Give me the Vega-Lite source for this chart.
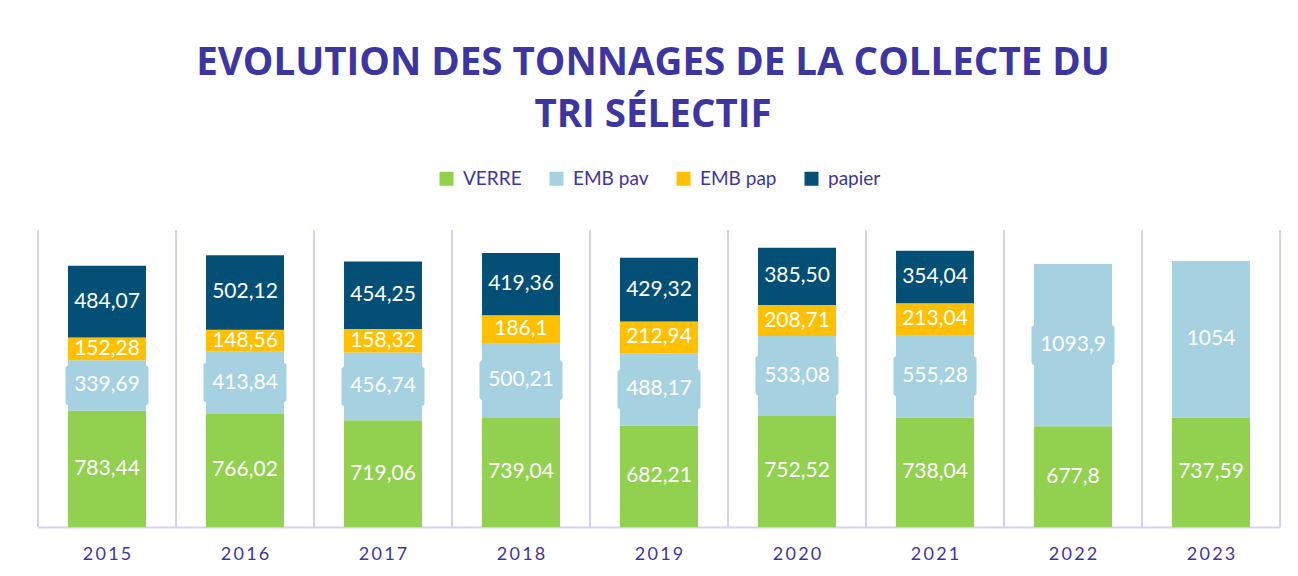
{
  "$schema": "https://vega.github.io/schema/vega-lite/v6.json",
  "width": 1242,
  "height": 297,
  "autosize": {"type": "pad"},
  "padding": {"left": 37, "right": 19, "top": 43, "bottom": 0},
  "background": "white",
  "title": {
    "text": ["EVOLUTION DES TONNAGES DE LA COLLECTE DU", "TRI SÉLECTIF"],
    "font": "Open Sans",
    "fontSize": 38.5,
    "fontWeight": "bold",
    "color": "#3D35A0",
    "lineHeight": 52,
    "anchor": "middle",
    "dx": -6,
    "offset": 34
  },
  "config": {
    "view": {"stroke": null},
    "legend": {"layout": {"top": {"anchor": "middle"}}}
  },
  "data": {
    "values": [
      {"year": "2015", "serie": "VERRE", "o": 1, "value": 783.44, "label": "783,44"},
      {"year": "2015", "serie": "EMB pav", "o": 2, "value": 339.69, "label": "339,69"},
      {"year": "2015", "serie": "EMB pap", "o": 3, "value": 152.28, "label": "152,28"},
      {"year": "2015", "serie": "papier", "o": 4, "value": 484.07, "label": "484,07"},
      {"year": "2016", "serie": "VERRE", "o": 1, "value": 766.02, "label": "766,02"},
      {"year": "2016", "serie": "EMB pav", "o": 2, "value": 413.84, "label": "413,84"},
      {"year": "2016", "serie": "EMB pap", "o": 3, "value": 148.56, "label": "148,56"},
      {"year": "2016", "serie": "papier", "o": 4, "value": 502.12, "label": "502,12"},
      {"year": "2017", "serie": "VERRE", "o": 1, "value": 719.06, "label": "719,06"},
      {"year": "2017", "serie": "EMB pav", "o": 2, "value": 456.74, "label": "456,74"},
      {"year": "2017", "serie": "EMB pap", "o": 3, "value": 158.32, "label": "158,32"},
      {"year": "2017", "serie": "papier", "o": 4, "value": 454.25, "label": "454,25"},
      {"year": "2018", "serie": "VERRE", "o": 1, "value": 739.04, "label": "739,04"},
      {"year": "2018", "serie": "EMB pav", "o": 2, "value": 500.21, "label": "500,21"},
      {"year": "2018", "serie": "EMB pap", "o": 3, "value": 186.1, "label": "186,1"},
      {"year": "2018", "serie": "papier", "o": 4, "value": 419.36, "label": "419,36"},
      {"year": "2019", "serie": "VERRE", "o": 1, "value": 682.21, "label": "682,21"},
      {"year": "2019", "serie": "EMB pav", "o": 2, "value": 488.17, "label": "488,17"},
      {"year": "2019", "serie": "EMB pap", "o": 3, "value": 212.94, "label": "212,94"},
      {"year": "2019", "serie": "papier", "o": 4, "value": 429.32, "label": "429,32"},
      {"year": "2020", "serie": "VERRE", "o": 1, "value": 752.52, "label": "752,52"},
      {"year": "2020", "serie": "EMB pav", "o": 2, "value": 533.08, "label": "533,08"},
      {"year": "2020", "serie": "EMB pap", "o": 3, "value": 208.71, "label": "208,71"},
      {"year": "2020", "serie": "papier", "o": 4, "value": 385.5, "label": "385,50"},
      {"year": "2021", "serie": "VERRE", "o": 1, "value": 738.04, "label": "738,04"},
      {"year": "2021", "serie": "EMB pav", "o": 2, "value": 555.28, "label": "555,28"},
      {"year": "2021", "serie": "EMB pap", "o": 3, "value": 213.04, "label": "213,04"},
      {"year": "2021", "serie": "papier", "o": 4, "value": 354.04, "label": "354,04"},
      {"year": "2022", "serie": "VERRE", "o": 1, "value": 677.8, "label": "677,8"},
      {"year": "2022", "serie": "EMB pav", "o": 2, "value": 1093.9, "label": "1093,9"},
      {"year": "2023", "serie": "VERRE", "o": 1, "value": 737.59, "label": "737,59"},
      {"year": "2023", "serie": "EMB pav", "o": 2, "value": 1054, "label": "1054"}
    ]
  },
  "transform": [
    {"stack": "value", "groupby": ["year"], "sort": [{"field": "o", "order": "ascending"}], "as": ["v0", "v1"]},
    {"calculate": "(datum.v0 + datum.v1) / 2", "as": "mid"}
  ],
  "encoding": {
    "x": {
      "field": "year",
      "type": "ordinal",
      "scale": {"paddingInner": 0, "paddingOuter": 0},
      "axis": {
        "title": null,
        "labelAngle": 0,
        "labelFont": "Lato",
        "labelFontSize": 18,
        "labelColor": "#3D35A0",
        "labelPadding": 18,
        "labelExpr": "join(split(datum.label, ''), '\u2009')",
        "ticks": false,
        "grid": false,
        "domainColor": "#D4D0F0",
        "domainWidth": 2
      }
    }
  },
  "layer": [
    {
      "transform": [{"filter": "datum.serie == 'VERRE'"}],
      "mark": {"type": "rule", "color": "#D4D0F0", "strokeWidth": 2},
      "encoding": {"x": {"field": "year", "type": "ordinal", "bandPosition": 0}}
    },
    {
      "transform": [{"filter": "datum.serie == 'VERRE' && datum.year == '2023'"}],
      "mark": {"type": "rule", "color": "#D4D0F0", "strokeWidth": 2},
      "encoding": {"x": {"field": "year", "type": "ordinal", "bandPosition": 1}}
    },
    {
      "mark": {"type": "bar", "width": {"band": 0.565}},
      "encoding": {
        "y": {"field": "v0", "type": "quantitative", "scale": {"domain": [0, 2000]}, "axis": null},
        "y2": {"field": "v1"},
        "color": {
          "field": "serie",
          "type": "nominal",
          "scale": {
            "domain": ["VERRE", "EMB pav", "EMB pap", "papier"],
            "range": ["#92D050", "#A5D1E0", "#FFC000", "#044F76"]
          },
          "legend": {
            "title": null,
            "orient": "top",
            "direction": "horizontal",
            "symbolType": "square",
            "symbolSize": 196,
            "symbolStrokeWidth": 0,
            "labelFont": "Lato",
            "labelFontSize": 19,
            "labelColor": "#3D35A0",
            "labelOffset": 7,
            "columnPadding": 25,
            "offset": 41
          }
        }
      }
    },
    {
      "transform": [{"filter": "datum.serie == 'EMB pav' && length(datum.label) >= 6"}],
      "mark": {
        "type": "point",
        "shape": "M-0.95,-0.48L0.95,-0.48L1,-0.43L1,0.43L0.95,0.48L-0.95,0.48L-1,0.43L-1,-0.43Z",
        "filled": true,
        "opacity": 1,
        "size": 6889,
        "color": "#A5D1E0",
        "strokeWidth": 0
      },
      "encoding": {
        "y": {"field": "mid", "type": "quantitative"}
      }
    },
    {
      "mark": {"type": "text", "color": "white", "font": "Lato", "fontSize": 21, "baseline": "middle"},
      "encoding": {
        "y": {"field": "mid", "type": "quantitative"},
        "text": {"field": "label"}
      }
    }
  ]
}
